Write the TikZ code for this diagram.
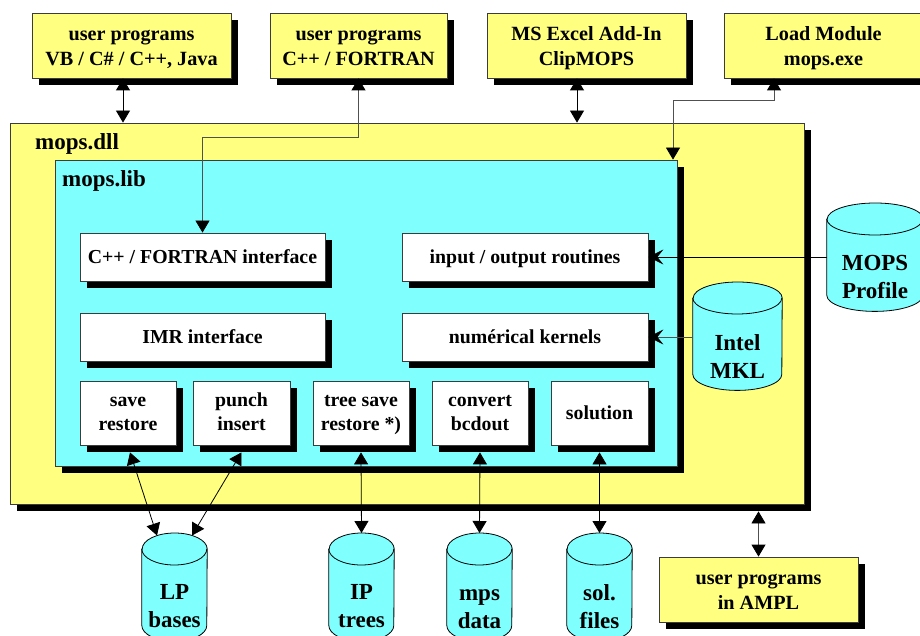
\documentclass[tikz,border=0pt]{standalone}
\usepackage{fontspec}
\setmainfont{Liberation Serif}
\usetikzlibrary{arrows.meta,shadows,calc}
\definecolor{yel}{RGB}{255,255,128}
\definecolor{cya}{RGB}{128,255,255}
\definecolor{edge}{RGB}{60,60,60}
\definecolor{gline}{RGB}{80,80,80}
\newcommand{\ms}{\rule[-5pt]{0pt}{21pt}}
\newcommand{\mt}{\rule[-5pt]{0pt}{25pt}}
\newcommand{\mo}{\rule[-5pt]{0pt}{23pt}}
\newcommand{\mycyl}[5]{%
  \node[inner sep=0pt, minimum width={2*#4}, minimum height={#5}, anchor=north] (#1) at (#2,#3) {};
  \path[fill=cya, draw=black, line width=0.8pt]
    ([yshift=-16pt]#1.north west) -- ([yshift=16pt]#1.south west)
    arc[start angle=180, end angle=360, x radius=#4, y radius=16]
    -- ([yshift=-16pt]#1.north east)
    arc[start angle=0, end angle=180, x radius=#4, y radius=16] -- cycle;
  \draw[line width=0.8pt] ([yshift=-16pt]#1.north west)
    arc[start angle=180, end angle=360, x radius=#4, y radius=16];
}
\begin{document}
\begin{tikzpicture}[x=1pt,y=1pt,
  shd/.style={drop shadow={shadow xshift=7pt, shadow yshift=-7pt, fill=black, opacity=1}},
  box/.style={draw=edge, line width=0.8pt, align=center, inner sep=0pt,
    font=\fontsize{20.2}{25}\selectfont\bfseries, shd},
  ybox/.style={box, fill=yel},
  wbox/.style={box, fill=white, font=\fontsize{19.8}{24}\selectfont\bfseries},
  cbox/.style={box, fill=cya},
  big/.style={font=\fontsize{23}{28}\selectfont\bfseries, inner sep=0pt},
  ctext/.style={big, align=center},
  arr/.style={line width=0.8pt, draw=black, {Triangle[length=12pt,width=14pt,color=black]}-{Triangle[length=12pt,width=14pt,color=black]}},
  sarr/.style={line width=0.8pt, draw=black, -{Stealth[length=15pt,width=15pt,inset=6pt,color=black]}}
]
\useasboundingbox (0,0) rectangle (920,635);
\clip (0,0) rectangle (920,635);

% main containers
\node[ybox, minimum width=794, minimum height=381] (dll) at (407,321.5) {};
\node[big, anchor=base west] (dllt) at (35,485) {mops.dll};
\node[cbox, minimum width=622, minimum height=306] (lib) at (366,322) {};
\node[big, anchor=base west] (libt) at (62,448) {mops.lib};

% top boxes
\node[ybox, minimum width=199, minimum height=65] (u1) at (131.5,589.5) {\mt user programs\\VB / C\# / C++, Java\ms};
\node[ybox, minimum width=177, minimum height=65] (u2) at (358.5,589.5) {\mt user programs\\C++ / FORTRAN\ms};
\node[ybox, minimum width=199, minimum height=65] (xl) at (586.5,589.5) {\mt MS Excel Add-In\\ClipMOPS\ms};
\node[ybox, minimum width=199, minimum height=65] (ld) at (823.5,589.5) {\mt Load Module\\mops.exe\ms};
\node[ybox, minimum width=199, minimum height=65] (ampl) at (758.5,45.5) {\mt user programs\\in AMPL\ms};

% inner boxes
\node[wbox, minimum width=245, minimum height=48] (cpp) at (202.5,378) {\mo C++ / FORTRAN interface};
\node[wbox, minimum width=245, minimum height=48] (imr) at (202.5,298) {\mo IMR interface};
\node[wbox, minimum width=246, minimum height=48] (io) at (525,378) {\mo input / output routines};
\node[wbox, minimum width=246, minimum height=48] (num) at (525,298) {\mo numérical kernels};
\node[wbox, minimum width=96, minimum height=64] (sv) at (128,222) {\ms save\\restore\ms};
\node[wbox, minimum width=97, minimum height=64] (pi) at (241.5,222) {\ms punch\\insert\ms};
\node[wbox, minimum width=96, minimum height=64] (ts) at (361,222) {\ms tree save\\restore *)\ms};
\node[wbox, minimum width=96, minimum height=64] (cv) at (480,222) {\ms convert\\bcdout\ms};
\node[wbox, minimum width=97, minimum height=64] (so) at (599.5,222) {\mo solution};

% cylinders
\mycyl{mkl}{737.5}{353}{44.5}{108}
\node[ctext] (mklt) at (737.5,278) {Intel\\MKL};
\mycyl{prof}{875}{432}{48}{108}
\node[ctext] (proft) at (875,357.7) {MOPS\\Profile};
\mycyl{lp}{174.5}{102}{32.5}{108}
\node[ctext] (lpt) at (174.5,28.6) {LP\\bases};
\mycyl{ip}{361.5}{102}{32.5}{108}
\node[ctext] (ipt) at (361.5,28.6) {IP\\trees};
\mycyl{mps}{479.5}{102}{32.5}{108}
\node[ctext] (mpst) at (479.5,26.3) {mps\\data};
\mycyl{sol}{599.5}{102}{32.5}{108}
\node[ctext] (solt) at (599.5,28.8) {sol.\\files};

% connectors
\draw[arr] ([xshift=-8.5pt]u1.south) -- ([xshift=-8.5pt]u1.south |- dll.north);
\coordinate (k2) at (202.5,498);
\draw[arr, draw=gline] (u2.south) |- (k2) -- (k2 |- cpp.north);
\draw[arr] ([xshift=-9.5pt]xl.south) -- ([xshift=-9.5pt]xl.south |- dll.north);
\coordinate (k4) at (673,535);
\draw[arr, draw=gline] ([xshift=-49.5pt]ld.south) |- (k4) -- (k4 |- lib.north);
\draw[sarr] (io.east -| prof.west) -- (io.east);
\draw[sarr, draw=gline] (num.east -| mkl.west) -- (num.east);
\draw[arr] ([xshift=2pt,yshift=-7pt]sv.south) -- ([xshift=-17.5pt,yshift=-2.5pt]lp.north);
\draw[arr] ([yshift=-7pt]pi.south) -- ([xshift=17.5pt,yshift=-2.5pt]lp.north);
\draw[arr] ([yshift=-7pt]ts.south) -- (ip.north);
\draw[arr] ([yshift=-7pt]cv.south) -- (mps.north);
\draw[arr] ([yshift=-7pt]so.south) -- (sol.north);
\draw[arr, draw=gline] (ampl.north) -- ([yshift=-7pt]ampl.north |- dll.south);
\end{tikzpicture}
\end{document}
